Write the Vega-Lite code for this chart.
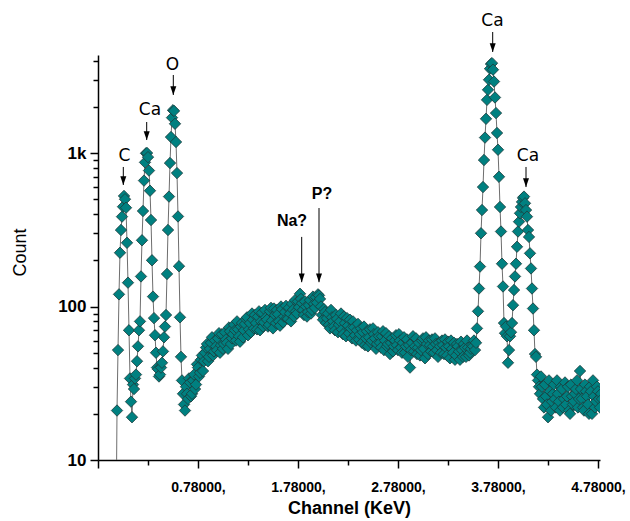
{
  "$schema": "https://vega.github.io/schema/vega-lite/v6.json",
  "width": 502,
  "height": 405,
  "autosize": {"type": "none"},
  "padding": {"left": 98, "top": 55, "right": 30, "bottom": 61},
  "background": "white",
  "config": {"view": {"stroke": null}, "font": "Liberation Sans"},
  "datasets": {
    "spectrum": [
      {"x":-0.04,"y":3},{"x":-0.03,"y":21},{"x":-0.02,"y":52},{"x":-0.01,"y":120},{"x":0,"y":224},{"x":0.01,"y":315},{"x":0.02,"y":385},{"x":0.03,"y":447},{"x":0.04,"y":525},{"x":0.05,"y":500},{"x":0.06,"y":440},{"x":0.07,"y":260},{"x":0.08,"y":143},{"x":0.09,"y":70},{"x":0.1,"y":34},{"x":0.11,"y":24},{"x":0.12,"y":19},{"x":0.13,"y":31},{"x":0.14,"y":29},{"x":0.15,"y":34},{"x":0.16,"y":36},{"x":0.17,"y":44},{"x":0.18,"y":55},{"x":0.19,"y":70},{"x":0.2,"y":80},{"x":0.21,"y":157},{"x":0.22,"y":270},{"x":0.23,"y":419},{"x":0.24,"y":661},{"x":0.25,"y":869},{"x":0.26,"y":996},{"x":0.27,"y":1000},{"x":0.28,"y":940},{"x":0.29,"y":768},{"x":0.3,"y":568},{"x":0.31,"y":366},{"x":0.32,"y":200},{"x":0.33,"y":116},{"x":0.34,"y":84},{"x":0.35,"y":65},{"x":0.36,"y":50},{"x":0.37,"y":40},{"x":0.38,"y":39},{"x":0.39,"y":35},{"x":0.4,"y":36},{"x":0.41,"y":40},{"x":0.42,"y":43},{"x":0.43,"y":51},{"x":0.44,"y":63},{"x":0.45,"y":74},{"x":0.46,"y":88},{"x":0.47,"y":163},{"x":0.48,"y":315},{"x":0.49,"y":520},{"x":0.5,"y":860},{"x":0.51,"y":1270},{"x":0.52,"y":1700},{"x":0.53,"y":1900},{"x":0.54,"y":1880},{"x":0.55,"y":1550},{"x":0.56,"y":1180},{"x":0.57,"y":740},{"x":0.58,"y":386},{"x":0.59,"y":183},{"x":0.6,"y":85},{"x":0.61,"y":47},{"x":0.62,"y":33},{"x":0.63,"y":27},{"x":0.64,"y":23},{"x":0.65,"y":21},
      {"x":0.66,"y":30},{"x":0.67,"y":27},{"x":0.68,"y":25},{"x":0.69,"y":34},{"x":0.7,"y":32},{"x":0.71,"y":26},{"x":0.72,"y":27},{"x":0.73,"y":33},{"x":0.74,"y":36},{"x":0.75,"y":29},{"x":0.76,"y":31},{"x":0.77,"y":42},{"x":0.78,"y":40},{"x":0.79,"y":35},{"x":0.8,"y":37},{"x":0.81,"y":45},{"x":0.82,"y":48},{"x":0.83,"y":38},{"x":0.84,"y":44},{"x":0.85,"y":50},{"x":0.86,"y":54},{"x":0.87,"y":57},{"x":0.88,"y":44},{"x":0.89,"y":47},{"x":0.9,"y":53},{"x":0.91,"y":58},{"x":0.92,"y":63},{"x":0.93,"y":48},{"x":0.94,"y":51},{"x":0.95,"y":60},{"x":0.96,"y":55},{"x":0.97,"y":52},{"x":0.98,"y":62},{"x":0.99,"y":67},{"x":1.0,"y":50},{"x":1.01,"y":56},{"x":1.02,"y":66},{"x":1.03,"y":53},{"x":1.04,"y":57},{"x":1.05,"y":68},{"x":1.06,"y":61},{"x":1.07,"y":58},{"x":1.08,"y":53},{"x":1.09,"y":73},{"x":1.1,"y":69},{"x":1.11,"y":57},{"x":1.12,"y":62},{"x":1.13,"y":66},{"x":1.14,"y":76},{"x":1.15,"y":70},{"x":1.16,"y":60},{"x":1.17,"y":80},{"x":1.18,"y":71},{"x":1.19,"y":64},{"x":1.2,"y":59},{"x":1.21,"y":74},{"x":1.22,"y":78},{"x":1.23,"y":63},{"x":1.24,"y":70},{"x":1.25,"y":77},{"x":1.26,"y":83},{"x":1.27,"y":85},{"x":1.28,"y":65},{"x":1.29,"y":71},{"x":1.3,"y":78},{"x":1.31,"y":68},{"x":1.32,"y":90},{"x":1.33,"y":82},{"x":1.34,"y":72},{"x":1.35,"y":88},{"x":1.36,"y":78},{"x":1.37,"y":71},{"x":1.38,"y":86},{"x":1.39,"y":93},{"x":1.4,"y":70},{"x":1.41,"y":80},{"x":1.42,"y":91},{"x":1.43,"y":74},{"x":1.44,"y":79},{"x":1.45,"y":95},{"x":1.46,"y":85},{"x":1.47,"y":82},{"x":1.48,"y":74},{"x":1.49,"y":76},{"x":1.5,"y":93},{"x":1.51,"y":98},{"x":1.52,"y":81},{"x":1.53,"y":72},{"x":1.54,"y":97},{"x":1.55,"y":88},{"x":1.56,"y":78},{"x":1.57,"y":95},{"x":1.58,"y":89},{"x":1.59,"y":80},{"x":1.6,"y":75},{"x":1.61,"y":100},{"x":1.62,"y":96},{"x":1.63,"y":79},{"x":1.64,"y":86},{"x":1.65,"y":92},{"x":1.66,"y":101},{"x":1.67,"y":84},{"x":1.68,"y":83},{"x":1.69,"y":98},{"x":1.7,"y":90},{"x":1.71,"y":80},{"x":1.72,"y":104},{"x":1.73,"y":95},{"x":1.74,"y":86},{"x":1.75,"y":110},{"x":1.76,"y":93},{"x":1.77,"y":90},{"x":1.78,"y":108},{"x":1.79,"y":99},{"x":1.8,"y":121},{"x":1.81,"y":112},{"x":1.82,"y":105},{"x":1.83,"y":95},{"x":1.84,"y":88},{"x":1.85,"y":108},{"x":1.86,"y":100},{"x":1.87,"y":86},{"x":1.88,"y":92},{"x":1.89,"y":102},{"x":1.9,"y":110},{"x":1.91,"y":90},{"x":1.92,"y":95},{"x":1.93,"y":116},{"x":1.94,"y":104},{"x":1.95,"y":98},{"x":1.96,"y":115},{"x":1.97,"y":106},{"x":1.98,"y":120},{"x":1.99,"y":118},{"x":2.0,"y":112},{"x":2.01,"y":100},{"x":2.02,"y":88},{"x":2.03,"y":82},{"x":2.04,"y":96},{"x":2.05,"y":92},{"x":2.06,"y":78},{"x":2.07,"y":84},{"x":2.08,"y":90},{"x":2.09,"y":76},{"x":2.1,"y":72},{"x":2.11,"y":95},{"x":2.12,"y":85},{"x":2.13,"y":80},{"x":2.14,"y":74},{"x":2.15,"y":70},{"x":2.16,"y":88},{"x":2.17,"y":83},{"x":2.18,"y":68},{"x":2.19,"y":76},{"x":2.2,"y":80},{"x":2.21,"y":90},{"x":2.22,"y":71},{"x":2.23,"y":66},{"x":2.24,"y":86},{"x":2.25,"y":78},{"x":2.26,"y":64},{"x":2.27,"y":84},{"x":2.28,"y":75},{"x":2.29,"y":67},{"x":2.3,"y":82},{"x":2.31,"y":72},{"x":2.32,"y":62},{"x":2.33,"y":80},{"x":2.34,"y":73},{"x":2.35,"y":65},{"x":2.36,"y":60},{"x":2.37,"y":70},{"x":2.38,"y":77},{"x":2.39,"y":61},{"x":2.4,"y":66},{"x":2.41,"y":72},{"x":2.42,"y":58},{"x":2.43,"y":68},{"x":2.44,"y":74},{"x":2.45,"y":56},{"x":2.46,"y":62},{"x":2.47,"y":69},{"x":2.48,"y":55},{"x":2.49,"y":63},{"x":2.5,"y":71},{"x":2.51,"y":58},{"x":2.52,"y":60},{"x":2.53,"y":72},{"x":2.54,"y":66},{"x":2.55,"y":62},{"x":2.56,"y":53},{"x":2.57,"y":57},{"x":2.58,"y":68},{"x":2.59,"y":64},{"x":2.6,"y":58},{"x":2.61,"y":54},{"x":2.62,"y":64},{"x":2.63,"y":69},{"x":2.64,"y":52},{"x":2.65,"y":60},{"x":2.66,"y":67},{"x":2.67,"y":55},{"x":2.68,"y":57},{"x":2.69,"y":64},{"x":2.7,"y":49},{"x":2.71,"y":58},{"x":2.72,"y":62},{"x":2.73,"y":51},{"x":2.74,"y":55},{"x":2.75,"y":60},{"x":2.76,"y":65},{"x":2.77,"y":56},{"x":2.78,"y":52},{"x":2.79,"y":66},{"x":2.8,"y":60},{"x":2.81,"y":54},{"x":2.82,"y":50},{"x":2.83,"y":58},{"x":2.84,"y":63},{"x":2.85,"y":50},{"x":2.86,"y":55},{"x":2.87,"y":61},{"x":2.88,"y":47},{"x":2.89,"y":56},{"x":2.9,"y":40},{"x":2.91,"y":52},{"x":2.92,"y":58},{"x":2.93,"y":64},{"x":2.94,"y":51},{"x":2.95,"y":55},{"x":2.96,"y":62},{"x":2.97,"y":49},{"x":2.98,"y":54},{"x":2.99,"y":58},{"x":3.0,"y":48},{"x":3.01,"y":52},{"x":3.02,"y":60},{"x":3.03,"y":62},{"x":3.04,"y":53},{"x":3.05,"y":46},{"x":3.06,"y":63},{"x":3.07,"y":57},{"x":3.08,"y":49},{"x":3.09,"y":60},{"x":3.1,"y":56},{"x":3.11,"y":51},{"x":3.12,"y":61},{"x":3.13,"y":55},{"x":3.14,"y":50},{"x":3.15,"y":62},{"x":3.16,"y":57},{"x":3.17,"y":52},{"x":3.18,"y":47},{"x":3.19,"y":58},{"x":3.2,"y":55},{"x":3.21,"y":50},{"x":3.22,"y":60},{"x":3.23,"y":56},{"x":3.24,"y":49},{"x":3.25,"y":61},{"x":3.26,"y":54},{"x":3.27,"y":48},{"x":3.28,"y":59},{"x":3.29,"y":55},{"x":3.3,"y":46},{"x":3.31,"y":60},{"x":3.32,"y":53},{"x":3.33,"y":50},{"x":3.34,"y":58},{"x":3.35,"y":45},{"x":3.36,"y":48},{"x":3.37,"y":57},{"x":3.38,"y":55},{"x":3.39,"y":51},{"x":3.4,"y":45},{"x":3.41,"y":59},{"x":3.42,"y":52},{"x":3.43,"y":47},{"x":3.44,"y":57},{"x":3.45,"y":54},{"x":3.46,"y":47},{"x":3.47,"y":60},{"x":3.48,"y":54},{"x":3.49,"y":48},{"x":3.5,"y":50},{"x":3.51,"y":53},{"x":3.52,"y":56},
      {"x":3.53,"y":55},{"x":3.54,"y":60},{"x":3.55,"y":52},{"x":3.56,"y":58},{"x":3.57,"y":72},{"x":3.58,"y":93},{"x":3.59,"y":131},{"x":3.6,"y":182},{"x":3.61,"y":300},{"x":3.62,"y":425},{"x":3.63,"y":600},{"x":3.64,"y":900},{"x":3.65,"y":1260},{"x":3.66,"y":1670},{"x":3.67,"y":2220},{"x":3.68,"y":2580},{"x":3.69,"y":3000},{"x":3.7,"y":3540},{"x":3.71,"y":3800},{"x":3.72,"y":3850},{"x":3.73,"y":3490},{"x":3.74,"y":2920},{"x":3.75,"y":2300},{"x":3.76,"y":1820},{"x":3.77,"y":1350},{"x":3.78,"y":1050},{"x":3.79,"y":700},{"x":3.8,"y":445},{"x":3.81,"y":308},{"x":3.82,"y":190},{"x":3.83,"y":135},{"x":3.84,"y":78},{"x":3.85,"y":67},{"x":3.86,"y":74},{"x":3.87,"y":64},{"x":3.88,"y":43},{"x":3.89,"y":52},{"x":3.9,"y":64},{"x":3.91,"y":68},{"x":3.92,"y":78},{"x":3.93,"y":102},{"x":3.94,"y":128},{"x":3.95,"y":157},{"x":3.96,"y":190},{"x":3.97,"y":245},{"x":3.98,"y":308},{"x":3.99,"y":357},{"x":4.0,"y":405},{"x":4.01,"y":445},{"x":4.02,"y":480},{"x":4.03,"y":510},{"x":4.04,"y":520},{"x":4.05,"y":470},{"x":4.06,"y":425},{"x":4.07,"y":385},{"x":4.08,"y":315},{"x":4.09,"y":284},{"x":4.1,"y":222},{"x":4.11,"y":177},{"x":4.12,"y":131},{"x":4.13,"y":97},{"x":4.14,"y":70},{"x":4.15,"y":49},{"x":4.16,"y":47},{"x":4.17,"y":36},
      {"x":4.18,"y":33},{"x":4.19,"y":30},{"x":4.2,"y":27},{"x":4.21,"y":35},{"x":4.22,"y":30},{"x":4.23,"y":25},{"x":4.24,"y":22},{"x":4.25,"y":31},{"x":4.26,"y":26},{"x":4.27,"y":23},{"x":4.28,"y":19},{"x":4.29,"y":33},{"x":4.3,"y":28},{"x":4.31,"y":21},{"x":4.32,"y":24},{"x":4.33,"y":27},{"x":4.34,"y":31},{"x":4.35,"y":25},{"x":4.36,"y":22},{"x":4.37,"y":33},{"x":4.38,"y":27},{"x":4.39,"y":24},{"x":4.4,"y":21},{"x":4.41,"y":30},{"x":4.42,"y":29},{"x":4.43,"y":22},{"x":4.44,"y":25},{"x":4.45,"y":32},{"x":4.46,"y":23},{"x":4.47,"y":26},{"x":4.48,"y":30},{"x":4.49,"y":21},{"x":4.5,"y":20},{"x":4.51,"y":31},{"x":4.52,"y":26},{"x":4.53,"y":23},{"x":4.54,"y":24},{"x":4.55,"y":27},{"x":4.56,"y":29},{"x":4.57,"y":33},{"x":4.58,"y":22},{"x":4.59,"y":25},{"x":4.6,"y":38},{"x":4.61,"y":29},{"x":4.62,"y":25},{"x":4.63,"y":22},{"x":4.64,"y":21},{"x":4.65,"y":31},{"x":4.66,"y":28},{"x":4.67,"y":26},{"x":4.68,"y":23},{"x":4.69,"y":20},{"x":4.7,"y":30},{"x":4.71,"y":28},{"x":4.72,"y":20},{"x":4.73,"y":33},{"x":4.74,"y":26},{"x":4.75,"y":22},{"x":4.76,"y":24},{"x":4.77,"y":30},{"x":4.78,"y":28},{"x":4.79,"y":25},{"x":4.8,"y":22},{"x":4.81,"y":27},{"x":4.82,"y":25}
    ],
    "ann": [
      {"label":"C","uncertain":false,"tx":0.045,"ty":956,"ax":0.033,"ay1":811,"ay2":619},
      {"label":"Ca","uncertain":false,"tx":0.30,"ty":1906,"ax":0.267,"ay1":1592,"ay2":1215},
      {"label":"O","uncertain":false,"tx":0.525,"ty":3744,"ax":0.533,"ay1":3223,"ay2":2388},
      {"label":"Na?","uncertain":true,"tx":1.72,"ty":361,"ax":1.817,"ay1":284,"ay2":144},
      {"label":"P?","uncertain":true,"tx":2.02,"ty":537,"ax":1.99,"ay1":438,"ay2":144},
      {"label":"Ca","uncertain":false,"tx":3.725,"ty":7192,"ax":3.727,"ay1":6142,"ay2":4550},
      {"label":"Ca","uncertain":false,"tx":4.08,"ty":949,"ax":4.06,"ay1":811,"ay2":600}
    ]
  },
  "layer": [
    {
      "data": {"name": "spectrum"},
      "mark": {"type": "line", "color": "#6e6e6e", "strokeWidth": 1, "clip": true},
      "encoding": {
        "x": {
          "field": "x", "type": "quantitative",
          "scale": {"domain": [-0.22, 4.8], "nice": false, "zero": false},
          "axis": {
            "values": [-0.22, 0.28, 0.78, 1.28, 1.78, 2.28, 2.78, 3.28, 3.78, 4.28, 4.78],
            "labelExpr": "datum.value > 0 && abs(round((datum.value - 0.78) * 100) % 100) < 1 ? format(datum.value, '.5f') + ',' : ''",
            "tickSize": {"condition": {"test": "abs(round((datum.value + 0.22) * 100) % 100) < 1", "value": 8}, "value": 5},
            "grid": false,
            "domainColor": "black", "domainWidth": 1.5,
            "tickColor": "black", "tickWidth": 1.5,
            "labelFont": "Liberation Sans", "labelFontSize": 14, "labelFontWeight": "bold", "labelColor": "black",
            "labelPadding": 12, "labelFlush": false, "labelOverlap": false,
            "title": "Channel (KeV)", "titleFont": "Liberation Sans", "titleFontSize": 18, "titleFontWeight": "bold", "titleColor": "black",
            "titlePadding": 5
          }
        },
        "y": {
          "field": "y", "type": "quantitative",
          "scale": {"type": "log", "domain": [10, 4350], "nice": false},
          "axis": {
            "values": [10, 20, 30, 40, 50, 60, 70, 80, 90, 100, 200, 300, 400, 500, 600, 700, 800, 900, 1000, 2000, 3000, 4000],
            "labelExpr": "datum.value == 10 ? '10' : datum.value == 100 ? '100' : datum.value == 1000 ? '1k' : ''",
            "tickSize": {"condition": {"test": "datum.value == 10 || datum.value == 100 || datum.value == 1000", "value": 8}, "value": 5},
            "grid": false,
            "domainColor": "black", "domainWidth": 1.5,
            "tickColor": "black", "tickWidth": 1.5,
            "labelFont": "Liberation Sans", "labelFontSize": 17, "labelFontWeight": "bold", "labelColor": "black",
            "labelPadding": 4, "labelFlush": false, "labelOverlap": false,
            "title": "Count", "titleFont": "Liberation Sans", "titleFontSize": 18, "titleFontWeight": "normal", "titleColor": "black",
            "titleX": -78, "titleY": 197, "titleAlign": "center", "titleBaseline": "middle", "titleAngle": -90
          }
        }
      }
    },
    {
      "data": {"name": "spectrum"},
      "mark": {"type": "point", "shape": "diamond", "filled": true, "size": 130, "fill": "#008080", "stroke": "#1d3a3a", "strokeWidth": 0.8, "opacity": 1, "clip": true},
      "encoding": {
        "x": {"field": "x", "type": "quantitative"},
        "y": {"field": "y", "type": "quantitative"}
      }
    },
    {
      "data": {"name": "ann"},
      "mark": {"type": "rule", "color": "black", "strokeWidth": 1},
      "encoding": {
        "x": {"field": "ax", "type": "quantitative"},
        "y": {"field": "ay1", "type": "quantitative"},
        "y2": {"field": "ay2"}
      }
    },
    {
      "data": {"name": "ann"},
      "mark": {"type": "point", "shape": "M-0.75,-2.2L0.75,-2.2L0,0Z", "filled": true, "size": 64, "color": "black", "opacity": 1},
      "encoding": {
        "x": {"field": "ax", "type": "quantitative"},
        "y": {"field": "ay2", "type": "quantitative"}
      }
    },
    {
      "data": {"name": "ann"},
      "transform": [{"filter": "!datum.uncertain"}],
      "mark": {"type": "text", "font": "DejaVu Sans", "fontSize": 17, "align": "center", "baseline": "middle", "color": "black"},
      "encoding": {
        "x": {"field": "tx", "type": "quantitative"},
        "y": {"field": "ty", "type": "quantitative"},
        "text": {"field": "label"}
      }
    },
    {
      "data": {"name": "ann"},
      "transform": [{"filter": "datum.uncertain"}],
      "mark": {"type": "text", "font": "Liberation Sans", "fontSize": 16, "fontWeight": "bold", "align": "center", "baseline": "middle", "color": "black"},
      "encoding": {
        "x": {"field": "tx", "type": "quantitative"},
        "y": {"field": "ty", "type": "quantitative"},
        "text": {"field": "label"}
      }
    }
  ]
}
